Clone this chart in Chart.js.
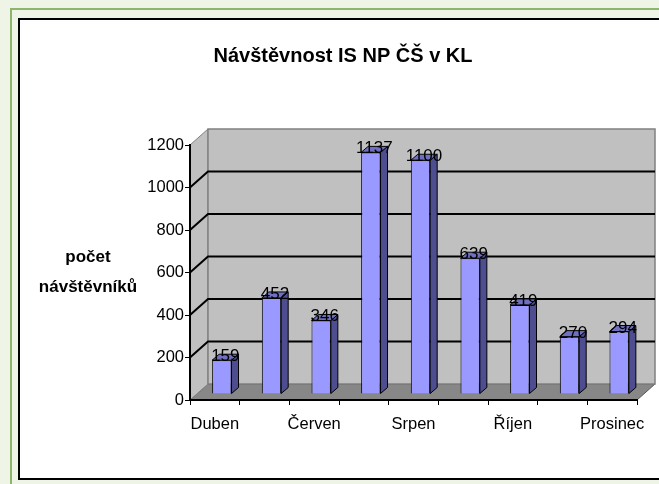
<!DOCTYPE html>
<html>
<head>
<meta charset="utf-8">
<script src="https://cdn.jsdelivr.net/npm/chart.js@4/dist/chart.umd.min.js"></script>
<style>
  body { margin:0; background:#eff5e6; width:659px; height:484px; overflow:hidden; position:relative; }
  .cadre-vert { position:absolute; left:10px; top:8px; width:700px; height:520px; border:2px solid #8db56e; }
  .cadre-noir { position:absolute; left:18px; top:18px; width:700px; height:458px; border:2px solid #000; background:#fff; }
  canvas { position:absolute; left:0; top:0; }
</style>
</head>
<body>
<div class="cadre-vert"></div>
<div class="cadre-noir"></div>
<canvas id="graf" width="659" height="484"></canvas>
<script>
// données
const mesice = ['Duben', 'Květen', 'Červen', 'Červenec', 'Srpen', 'Září', 'Říjen', 'Listopad', 'Prosinec'];
const navstevnici = [159, 452, 346, 1137, 1100, 639, 419, 270, 294];
const yMin = 0, yMax = 1200, yKrok = 200;
const nazev = 'Návštěvnost IS NP ČŠ v KL';
const osaY = ['počet', 'návštěvníků'];

const FONT = "'Liberation Sans', Arial, sans-serif";

// profondeur 3D
const DX = 18, DY = -16;   // parois
const BX = 7, BY = -6;     // plan des barres
const BDX = 7, BDY = -6;   // épaisseur des barres

function poly(ctx, pts, fill, stroke, lw) {
  ctx.beginPath();
  ctx.moveTo(pts[0][0], pts[0][1]);
  for (let i = 1; i < pts.length; i++) ctx.lineTo(pts[i][0], pts[i][1]);
  ctx.closePath();
  if (fill) { ctx.fillStyle = fill; ctx.fill(); }
  if (stroke) { ctx.strokeStyle = stroke; ctx.lineWidth = lw || 1; ctx.stroke(); }
}

const troisD = {
  id: 'troisD',
  beforeDraw(chart) {
    const { ctx, chartArea: a, scales: { y } } = chart;
    ctx.save();
    // sol
    poly(ctx, [[a.left, a.bottom], [a.right, a.bottom], [a.right + DX, a.bottom + DY], [a.left + DX, a.bottom + DY]], '#878787', '#555', 1);
    // paroi gauche
    poly(ctx, [[a.left, a.top], [a.left + DX, a.top + DY], [a.left + DX, a.bottom + DY], [a.left, a.bottom]], '#c0c0c0', '#808080', 1);
    // fond
    poly(ctx, [[a.left + DX, a.top + DY], [a.right + DX, a.top + DY], [a.right + DX, a.bottom + DY], [a.left + DX, a.bottom + DY]], '#c0c0c0', '#808080', 1.5);
    // quadrillage
    y.ticks.forEach(t => {
      if (t.value === yMin || t.value === yMax) return;
      const py = y.getPixelForValue(t.value);
      ctx.beginPath();
      ctx.moveTo(a.left, py);
      ctx.lineTo(a.left + DX, py + DY);
      ctx.lineTo(a.right + DX, py + DY);
      ctx.strokeStyle = '#000';
      ctx.lineWidth = 2;
      ctx.stroke();
    });
    ctx.restore();
  },
  beforeDatasetsDraw(chart) {
    chart.ctx.save();
    chart.ctx.translate(BX, BY);
  },
  afterDatasetsDraw(chart) {
    const ctx = chart.ctx;
    const meta = chart.getDatasetMeta(0);
    meta.data.forEach(el => {
      const { x, y, base, width } = el.getProps(['x', 'y', 'base', 'width'], true);
      const l = x - width / 2, r = x + width / 2;
      poly(ctx, [[r, y], [r + BDX, y + BDY], [r + BDX, base + BDY], [r, base]], '#4d4d90', '#000', 1);
      poly(ctx, [[l, y], [l + BDX, y + BDY], [r + BDX, y + BDY], [r, y]], '#7070c0', '#000', 1);
    });
    // étiquettes
    ctx.fillStyle = '#000';
    ctx.font = '17px ' + FONT;
    ctx.textAlign = 'center';
    ctx.textBaseline = 'alphabetic';
    meta.data.forEach((el, i) => {
      const { x, y } = el.getProps(['x', 'y'], true);
      ctx.fillText(String(navstevnici[i]), x + BDX / 2, y + 1);
    });
    ctx.restore();
  },
  afterDraw(chart) {
    // titre de l'axe Y, horizontal
    const ctx = chart.ctx;
    ctx.save();
    ctx.fillStyle = '#000';
    ctx.font = 'bold 17px ' + FONT;
    ctx.textAlign = 'center';
    ctx.textBaseline = 'alphabetic';
    ctx.fillText(osaY[0], 88, 262);
    ctx.fillText(osaY[1], 88, 292);
    ctx.restore();
  }
};

new Chart(document.getElementById('graf'), {
  type: 'bar',
  data: {
    labels: mesice,
    datasets: [{
      data: navstevnici,
      backgroundColor: '#9999ff',
      borderColor: '#000',
      borderWidth: 1,
      categoryPercentage: 1,
      barPercentage: 0.39
    }]
  },
  options: {
    responsive: false,
    animation: false,
    devicePixelRatio: 1,
    layout: { padding: { left: 49, top: 0, right: 22, bottom: 40 } },
    plugins: {
      legend: { display: false },
      tooltip: { enabled: false },
      title: {
        display: true,
        text: nazev,
        color: '#000',
        font: { family: FONT, size: 20, weight: 'bold' },
        padding: { top: 44, bottom: 77 }
      }
    },
    scales: {
      x: {
        afterFit(s) { s.height = 44; },
        grid: { offset: true, drawOnChartArea: false, drawTicks: true, tickLength: 5, color: '#000' },
        border: { display: true, color: '#000', width: 2 },
        ticks: {
          autoSkip: false, maxRotation: 0, padding: 10, color: '#000',
          font: { family: FONT, size: 16.5 },
          callback: (v, i) => (i % 2 === 0 ? mesice[i] : '')
        }
      },
      y: {
        min: yMin, max: yMax,
        afterFit(s) { s.width = 141; },
        grid: { drawOnChartArea: false, drawTicks: true, tickLength: 5, color: '#000' },
        border: { display: true, color: '#000', width: 2 },
        ticks: { stepSize: yKrok, padding: 1, color: '#000', font: { family: FONT, size: 16.5 }, callback: v => String(v) }
      }
    }
  },
  plugins: [troisD]
});
</script>
</body>
</html>
